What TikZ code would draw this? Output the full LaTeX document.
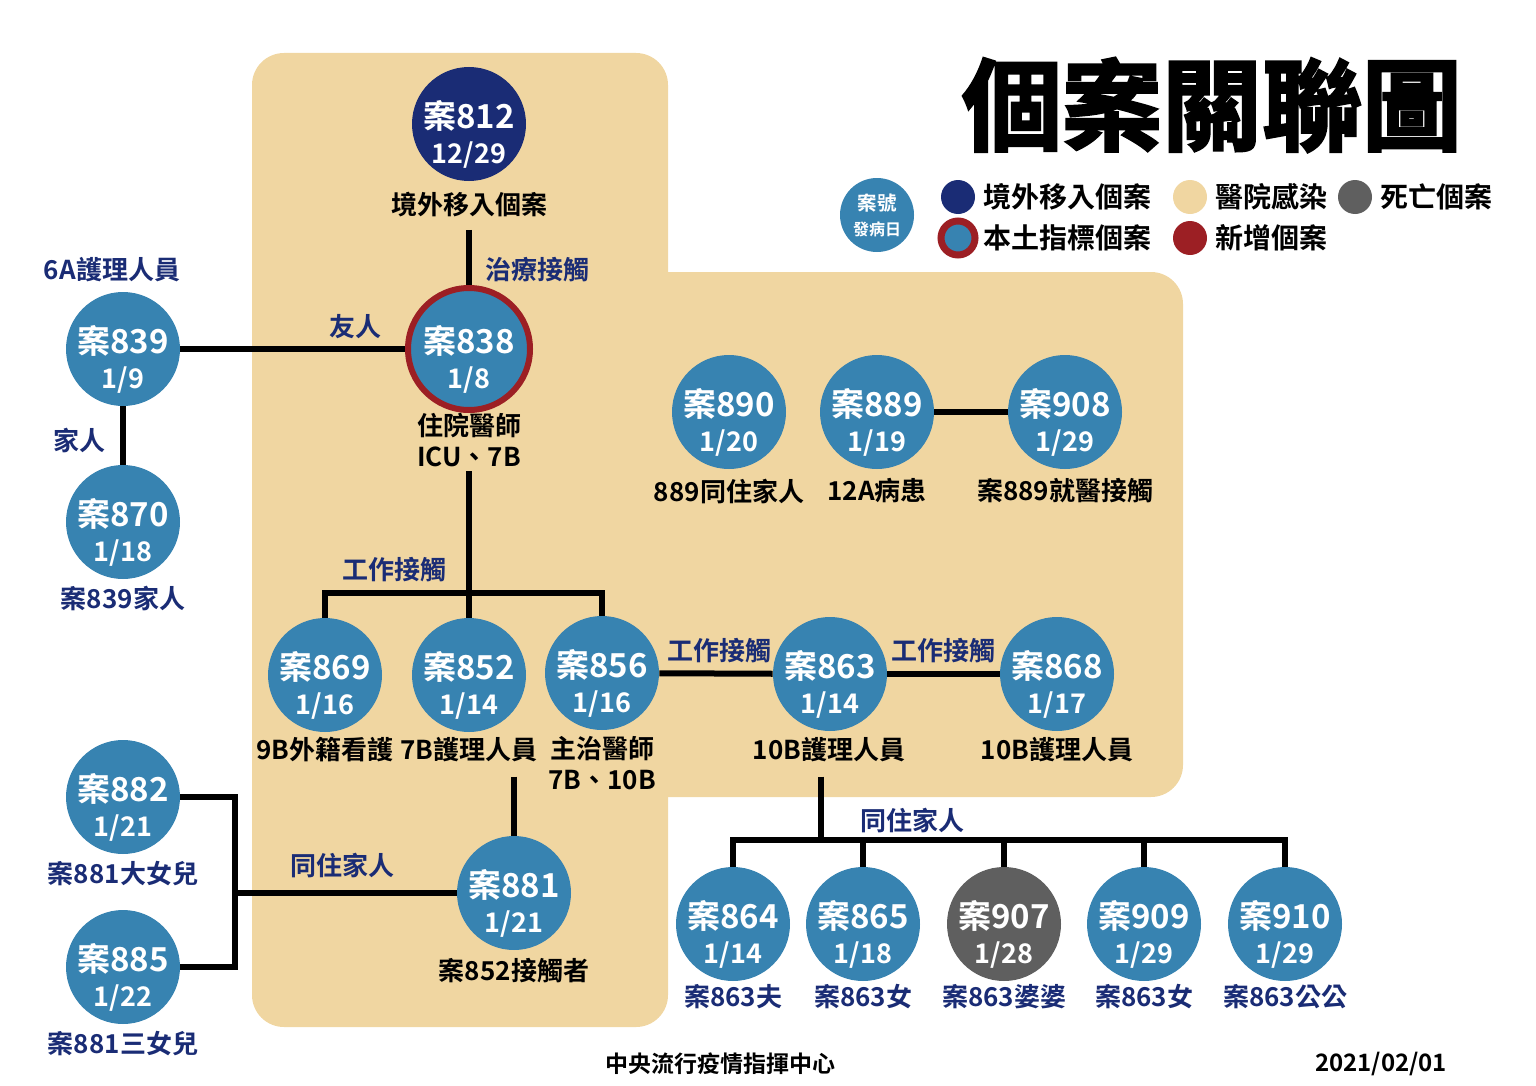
\documentclass[tikz,border=0pt]{standalone}
\usepackage{fontspec}
\usepackage{tikz}
\setmainfont{Noto Sans CJK TC}[UprightFont=* Bold]
\newfontfamily\titlefont{Noto Sans CJK TC}[UprightFont=* Bold, FakeBold=2.5]
\definecolor{navy}{HTML}{1A2C75}
\definecolor{caseblue}{HTML}{3783B1}
\definecolor{beige}{HTML}{F0D6A1}
\definecolor{ringred}{HTML}{9C1F24}
\definecolor{deadgray}{HTML}{5F5F5F}
\newcommand{\datefont}{\fontsize{13.5}{15}\selectfont}

\tikzset{
  casetext/.style={text=white, align=center, inner sep=0pt, yshift=-5pt, font=\fontsize{16.5}{17.5}\selectfont},
  case/.style 2 args={circle, fill=caseblue, minimum size=57pt, inner sep=0pt,
    label={[casetext]center:{案#1\\{\datefont #2}}}},
  index/.style={draw=ringred, line width=3pt, minimum size=61pt},
  lab/.style={inner sep=2pt, align=center, font=\fontsize{13}{15.5}\selectfont},
  rel/.style={lab, text=navy},
  link/.style={line width=3pt},
  dot/.style={circle, minimum size=17pt, inner sep=0pt},
  keytext/.style={anchor=west, inner sep=0pt, font=\fontsize{14}{16}\selectfont}
}

\begin{document}
\begin{tikzpicture}[x=0.5pt,y=-0.5pt]
    \useasboundingbox (0,0) rectangle (1536,1086);
    \fill[beige, rounded corners=16pt] (252,53) rectangle (668,1027);
    \fill[beige, rounded corners=16pt] (600,272) rectangle (1183,797);

    \node[font=\titlefont\fontsize{50}{55}\selectfont, inner sep=0pt] (title) at (1212,105) {個案關聯圖};

    \node[circle, fill=caseblue, minimum size=37pt, inner sep=0pt, text=white, align=center,
        font=\fontsize{9.75}{12.5}\selectfont] (key) at (877,215) {案號\\{\fontsize{8}{10}\selectfont 發病日}};
    \node[dot, fill=navy] (k1) at (958,197) {};
    \node[keytext] (k1t) at (983,197) {境外移入個案};
    \node[dot, fill=beige] (k2) at (1190,197) {};
    \node[keytext] (k2t) at (1215,197) {醫院感染};
    \node[dot, fill=deadgray] (k3) at (1355,197) {};
    \node[keytext] (k3t) at (1380,197) {死亡個案};
    \node[dot, fill=caseblue, draw=ringred, line width=3.5pt] (k4) at (958,238) {};
    \node[keytext] (k4t) at (983,238) {本土指標個案};
    \node[dot, fill=ringred] (k5) at (1190,238) {};
    \node[keytext] (k5t) at (1215,238) {新增個案};

    \node[case={812}{12/29}, fill=navy] (n812) at (469,124) {};
    \node[case={838}{1/8}, index] (n838) at (469,349) {};
    \node[case={839}{1/9}] (n839) at (123,349) {};
    \node[case={870}{1/18}] (n870) at (123,522) {};
    \node[case={890}{1/20}] (n890) at (729,412) {};
    \node[case={889}{1/19}] (n889) at (877,412) {};
    \node[case={908}{1/29}] (n908) at (1065,412) {};
    \node[case={869}{1/16}] (n869) at (325,675) {};
    \node[case={852}{1/14}] (n852) at (469,675) {};
    \node[case={856}{1/16}] (n856) at (602,673) {};
    \node[case={863}{1/14}] (n863) at (830,674) {};
    \node[case={868}{1/17}] (n868) at (1057,674) {};
    \node[case={882}{1/21}] (n882) at (123,797) {};
    \node[case={885}{1/22}] (n885) at (123,967) {};
    \node[case={881}{1/21}] (n881) at (514,893) {};
    \node[case={864}{1/14}] (n864) at (733,924) {};
    \node[case={865}{1/18}] (n865) at (863,924) {};
    \node[case={907}{1/28}, fill=deadgray] (n907) at (1004,924) {};
    \node[case={909}{1/29}] (n909) at (1144,924) {};
    \node[case={910}{1/29}] (n910) at (1285,924) {};

    \node[lab] (l812) at (469,205) {境外移入個案};
    \node[lab] (l838) at (469,440) {住院醫師\\ICU、7B};
    \node[rel] (l839) at (112,270) {6A護理人員};
    \node[rel] (l870) at (123,598) {案839家人};
    \node[lab] (l890) at (729,491) {889同住家人};
    \node[lab] (l889) at (877,491) {12A病患};
    \node[lab] (l908) at (1065,491) {案889就醫接觸};
    \node[lab] (l869) at (325,750) {9B外籍看護};
    \node[lab] (l852) at (469,750) {7B護理人員};
    \node[lab] (l856) at (602,763) {主治醫師\\7B、10B};
    \node[lab] (l863) at (829,750) {10B護理人員};
    \node[lab] (l868) at (1057,750) {10B護理人員};
    \node[rel] (l882) at (123,874) {案881大女兒};
    \node[rel] (l885) at (123,1044) {案881三女兒};
    \node[lab] (l881) at (514,971) {案852接觸者};
    \foreach \i/\x/\t in {864/733/案863夫, 865/863/案863女, 907/1004/案863婆婆, 909/1144/案863女, 910/1285/案863公公}
        \node[rel] (l\i) at (\x,997) {\t};

    \coordinate (b838) at (469,593);
    \coordinate (b863) at (821,840);
    \coordinate (b881) at (235,893);

    \draw[link, shorten <=4pt] (l812) -- (n838);
    \draw[link] (n839) -- (n838);
    \draw[link] (n839) -- (n870);
    \draw[link] (l838) -- (b838);
    \draw[link] (n869) |- (b838) -| (n856);
    \draw[link] (b838) -- (n852);
    \draw[link] (n856) -- (n863);
    \draw[link] (n863) -- (n868);
    \draw[link] (n889) -- (n908);
    \draw[link, shorten <=5pt] (l852.south -| n881) -- (n881);
    \draw[link] (n881) -- (b881);
    \draw[link] (n882) -| (b881);
    \draw[link] (n885) -| (b881);
    \draw[link, shorten <=5pt] (l863.south -| b863) -- (b863);
    \draw[link] (n864) |- (b863) -| (n910);
    \foreach \i in {865,907,909}
        \draw[link] (n\i) -- (n\i |- b863);

    \node[rel] (e812) at (537,270) {治療接觸};
    \node[rel] (e839) at (355,327) {友人};
    \node[rel] (e870) at (80,440) {家人};
    \node[rel] (e838) at (394,570) {工作接觸};
    \node[rel] (e856) at (719,651) {工作接觸};
    \node[rel] (e863) at (943,651) {工作接觸};
    \node[rel] (e881) at (342,865) {同住家人};
    \node[rel] (e864) at (912,820) {同住家人};

    \node[lab, font=\fontsize{11.5}{13}\selectfont] (org) at (720,1064) {中央流行疫情指揮中心};
    \node[lab, font=\fontsize{12}{14}\selectfont] (day) at (1381,1064) {2021/02/01};
\end{tikzpicture}
\end{document}
